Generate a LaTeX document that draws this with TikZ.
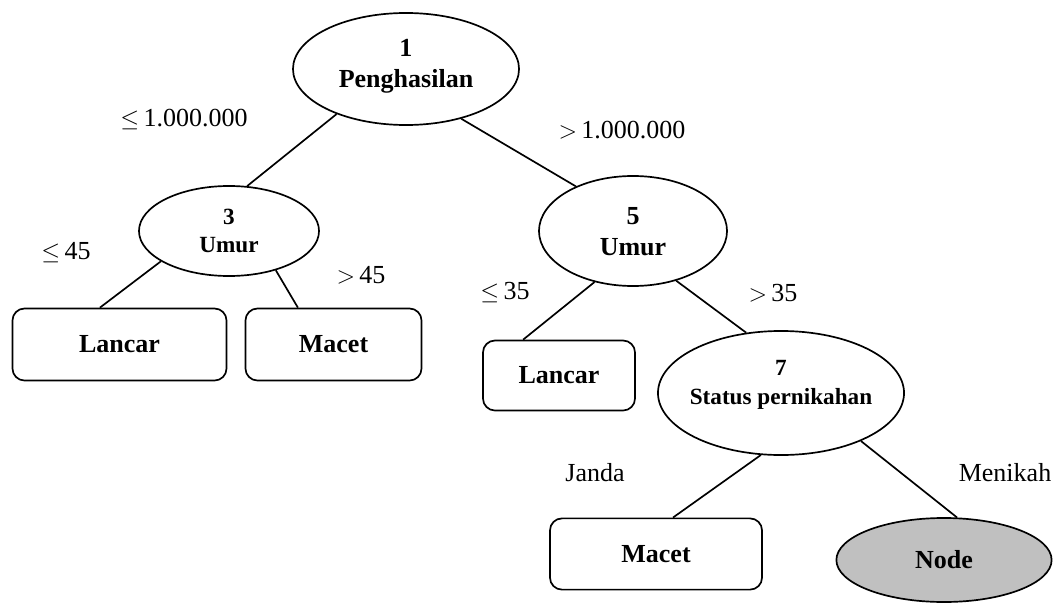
\documentclass[tikz,border=0pt]{standalone}
\usepackage{fontspec}
\setmainfont{Liberation Serif}
\usetikzlibrary{shapes.geometric}
\definecolor{leafgray}{RGB}{192,192,192}

\begin{document}
\begin{tikzpicture}[x=0.025cm, y=-0.025cm, line width=1.2pt,
        split/.style={draw, ellipse, inner sep=0pt},
        leaf/.style={draw, rectangle, rounded corners=0.3cm, inner sep=0pt,
            font=\fontsize{18.5}{21}\selectfont\bfseries},
        big/.style={font=\fontsize{18.5}{22}\selectfont\bfseries, align=center},
        small/.style={font=\fontsize{16.5}{20.5}\selectfont\bfseries, align=center},
        cond/.style={font=\fontsize{18.5}{21}\selectfont}]
        \useasboundingbox (0,0) rectangle (1058,604);

        % decision nodes
        \node[split, minimum width=5.65cm, minimum height=2.8cm] (n1) at (406,69) {};
        \node[split, minimum width=4.5cm, minimum height=2.25cm] (n3) at (229,231) {};
        \node[split, minimum width=4.7cm, minimum height=2.75cm] (n5) at (633,231) {};
        \node[split, minimum width=6.15cm, minimum height=3.1cm] (n7) at (781,393) {};
        \node[split, fill=leafgray, minimum width=5.38cm, minimum height=2.1cm,
            font=\fontsize{18.5}{21}\selectfont\bfseries] (n8) at (944,560) {Node};

        \node[big] (t1) at (406,66) {1\\Penghasilan};
        \node[small] (t3) at (229,231) {3\\Umur};
        \node[big] (t5) at (633,232) {5\\Umur};
        \node[small] (t7) at (781,385) {7\\Status pernikahan};

        % leaves
        \node[leaf, minimum width=5.35cm, minimum height=1.8cm] (lancarA) at (119.5,344.5) {Lancar};
        \node[leaf, minimum width=4.4cm, minimum height=1.8cm] (macetA) at (333.5,344.5) {Macet};
        \node[leaf, minimum width=3.8cm, minimum height=1.75cm] (lancarB) at (559,375.5) {Lancar};
        \node[leaf, minimum width=5.3cm, minimum height=1.78cm] (macetB) at (656,554) {Macet};

        \draw (n1.213) -- (n3.68);
        \draw (n1.318) -- (n5.142);
        \draw (n3.204) -- (lancarA.118);
        \draw (n3.320) -- (macetA.134);
        \draw (n5.233) -- (lancarB.135);
        \draw (n5.311) -- (n7.120);
        \draw (n7.252) -- (macetB.65);
        \draw (n7.329) -- (n8.73);

        % branch conditions
        \node[cond] (c1) at (184,120) {$\leq$\,1.000.000};
        \node[cond] (c2) at (622,130) {$>$\,1.000.000};
        \node[cond] (c3) at (66,253) {$\leq$\,45};
        \node[cond] (c4) at (361,275) {$>$\,45};
        \node[cond] (c5) at (505,293) {$\leq$\,35};
        \node[cond] (c6) at (773,293) {$>$\,35};
        \node[cond] (c7) at (595,473) {Janda};
        \node[cond] (c8) at (1005,473) {Menikah};
\end{tikzpicture}
\end{document}
